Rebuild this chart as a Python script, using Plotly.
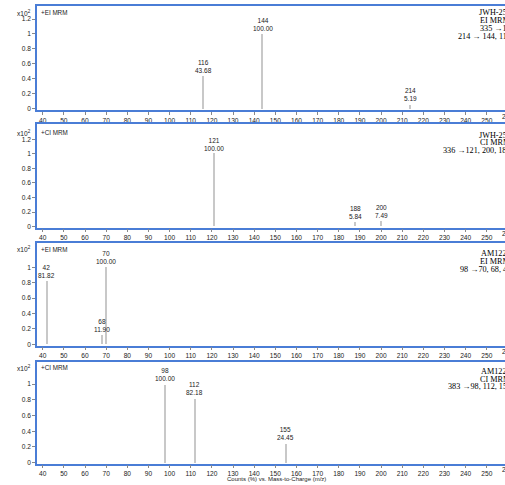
import plotly.graph_objects as go

# ---------------- data ----------------
mz_p1 = [116, 144, 214]
int_p1 = [43.68, 100.00, 5.19]
mz_p2 = [121, 188, 200]
int_p2 = [100.00, 5.84, 7.49]
mz_p3 = [42, 68, 70]
int_p3 = [81.82, 11.90, 100.00]
mz_p4 = [98, 112, 155]
int_p4 = [100.00, 82.18, 24.45]

mode_labels = ["+EI MRM", "+CI MRM", "+EI MRM", "+CI MRM"]
compound_lines = [
    ["JWH-250", "EI MRM", "335 \u219214", "214 \u2192 144, 116"],
    ["JWH-250", "CI MRM", "336 \u2192121, 200, 188"],
    ["AM1220", "EI MRM", "98 \u219270, 68, 42"],
    ["AM1220", "CI MRM", "383 \u219298, 112, 155"],
]
x_tick_vals = list(range(40, 261, 10))
y_ticks_tall = [0, 0.2, 0.4, 0.6, 0.8, 1.0, 1.2]
y_ticks_short = [0, 0.2, 0.4, 0.6, 0.8, 1.0]
scale_label = "x10<sup>2</sup>"
x_title = "Counts (%) vs. Mass-to-Charge (m/z)"

panels = [(mz_p1, int_p1), (mz_p2, int_p2), (mz_p3, int_p3), (mz_p4, int_p4)]

# ---------------- geometry / style ----------------
W, H = 505, 485
LEFT_PX = 37.0
X_RANGE = [37.3, 258.6]
panel_px = [(5.7, 110.5), (125.0, 228.5), (244.0, 347.0), (363.0, 465.5)]
y_ranges = [[-0.023, 1.379], [-0.014, 1.406], [-0.017, 1.314], [-0.013, 1.289]]
y_tick_sets = [y_ticks_tall, y_ticks_tall, y_ticks_short, y_ticks_short]
header_px = [13.0, 133.3, 250.3, 369.3]
right_text_px = [
    [13.0, 21.0, 28.7, 36.6],
    [136.5, 143.5, 151.0],
    [255.0, 262.7, 270.7],
    [373.3, 380.7, 388.3],
]

BLUE = "#4a7dd6"
STICK = "#c8c8c8"
SANS = "Liberation Sans, Arial, sans-serif"
SERIF = "Liberation Serif, Times New Roman, serif"
TXT = "#222222"
TICK_SIZE = 6.6

def py(px):
    return 1 - px / H

fig = go.Figure()
annotations = []
x_dom = [LEFT_PX / W, 1.0]

for i, (mz, inten) in enumerate(panels):
    n = i + 1
    xa = "x" if n == 1 else f"x{n}"
    ya = "y" if n == 1 else f"y{n}"
    rel = [v / 100 for v in inten]
    fig.add_trace(go.Bar(
        x=mz, y=rel, width=0.7, marker=dict(color=STICK, line=dict(width=0)),
        xaxis=xa, yaxis=ya, showlegend=False, hoverinfo="x+y",
    ))
    top, bot = panel_px[i]
    ydom = [py(bot), py(top)]
    fig.update_layout(**{
        ("xaxis" if n == 1 else f"xaxis{n}"): dict(
            domain=x_dom, range=X_RANGE, anchor=ya,
            showline=True, mirror=True, linecolor=BLUE, linewidth=1.5,
            ticks="outside", ticklen=3, tickwidth=1, tickcolor="#888888",
            tickvals=x_tick_vals, tickfont=dict(family=SANS, size=TICK_SIZE, color=TXT),
            showgrid=False, zeroline=False, fixedrange=True,
        ),
        ("yaxis" if n == 1 else f"yaxis{n}"): dict(
            domain=ydom, range=y_ranges[i], anchor=xa,
            showline=True, mirror=False, linecolor=BLUE, linewidth=1.5,
            ticks="outside", ticklen=3, tickwidth=1, tickcolor="#888888",
            tickvals=y_tick_sets[i],
            ticktext=[("%g" % t) for t in y_tick_sets[i]],
            tickfont=dict(family=SANS, size=TICK_SIZE, color=TXT),
            showgrid=False, zeroline=False, fixedrange=True,
        ),
    })
    # peak labels
    for m, v, r in zip(mz, inten, rel):
        annotations.append(dict(
            x=m, y=r, xref=xa, yref=ya, text=f"{m}<br>{v:.2f}",
            showarrow=False, yanchor="bottom", xanchor="center", yshift=0,
            font=dict(family=SANS, size=6.5, color=TXT),
        ))
    # scale label and mode label
    annotations.append(dict(
        x=32.5 / W, y=py(header_px[i]), xref="paper", yref="paper",
        text=scale_label, showarrow=False, xanchor="right", yanchor="middle",
        font=dict(family=SANS, size=6.6, color=TXT),
    ))
    annotations.append(dict(
        x=38.5 / W, y=py(header_px[i]), xref="paper", yref="paper",
        text=mode_labels[i], showarrow=False, xanchor="left", yanchor="middle",
        font=dict(family=SANS, size=6.3, color=TXT),
    ))
    # compound text (right side, cut off by page edge as in the reference)
    for line, ypx in zip(compound_lines[i], right_text_px[i]):
        annotations.append(dict(
            x=512.5 / W, y=py(ypx), xref="paper", yref="paper",
            text=line, showarrow=False, xanchor="right", yanchor="middle",
            font=dict(family=SERIF, size=8.2, color="#000000"),
        ))
    # the partially visible 260 tick label beyond the edge
    frac = (x_tick_vals[-1] - X_RANGE[0]) / (X_RANGE[1] - X_RANGE[0])
    annotations.append(dict(
        x=x_dom[0] + frac * (x_dom[1] - x_dom[0]), y=py(bot + 6.4),
        xref="paper", yref="paper", text=str(x_tick_vals[-1]),
        showarrow=False, xanchor="center", yanchor="middle",
        font=dict(family=SANS, size=TICK_SIZE, color=TXT),
    ))

annotations.append(dict(
    x=276.5 / W, y=py(481.3), xref="paper", yref="paper", text=x_title,
    showarrow=False, xanchor="center", yanchor="middle",
    font=dict(family=SANS, size=6.0, color=TXT),
))

fig.update_layout(
    width=W, height=H, autosize=False,
    margin=dict(l=0, r=0, t=0, b=0, pad=0),
    paper_bgcolor="white", plot_bgcolor="white",
    annotations=annotations, bargap=0,
)

fig.write_html(
    "out.html",
    config={"displayModeBar": False},
    post_script="document.body.style.margin='0px';document.body.style.overflow='hidden';",
)
